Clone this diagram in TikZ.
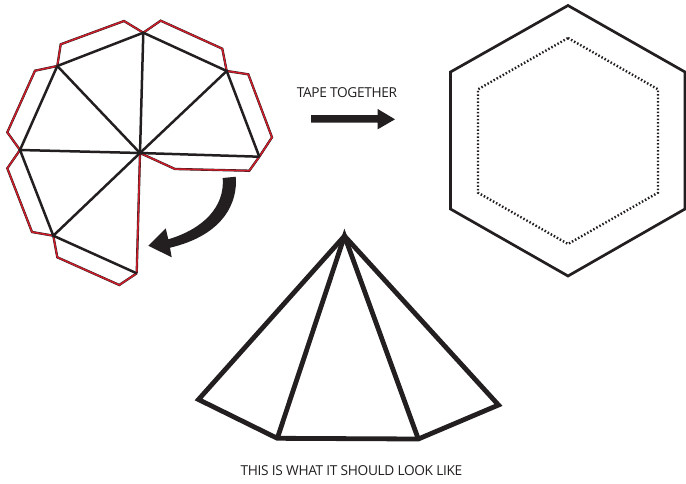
\documentclass[tikz,border=0pt]{standalone}
\usepackage{fontspec}
\setmainfont{Open Sans}[LetterSpace=-2.5]
\definecolor{inkblack}{RGB}{35,31,32}
\definecolor{flapred}{RGB}{205,28,42}
\tikzset{
    foldline/.style={draw=inkblack, line width=2.5pt},
    flapline/.style={draw=inkblack, line width=0.4pt, double=flapred, double distance=1.5pt, line join=miter},
    hexline/.style={draw=inkblack, line width=2.7pt, line join=miter},
    tapeline/.style={draw=inkblack, line width=2.4pt, dash pattern=on 1.5pt off 2pt},
    coneline/.style={draw=inkblack, line width=4.8pt, line join=miter, miter limit=20},
    notelabel/.style={align=center, font=\fontsize{13.7}{15}\selectfont, text=inkblack, inner sep=0pt}
}

\begin{document}
\begin{tikzpicture}[x=1pt, y=-1pt]
            \useasboundingbox (0,0) rectangle (686,483);

            % cut-out sheet
            \coordinate (c) at (140,153);
            \coordinate (v1) at (57.3,66);
            \coordinate (v2) at (143.3,32.7);
            \coordinate (v3) at (226.7,71);
            \coordinate (v4) at (259.3,156.7);
            \coordinate (v5) at (136.7,273.3);
            \coordinate (v6) at (53.3,235.7);
            \coordinate (v7) at (20,150);

            \draw[flapline] (v1) -- (60.7,44.3) -- (124,21) -- (v2);
            \draw[flapline] (v2) -- (160.7,20.7) -- (222.3,48.7) -- (v3);
            \draw[flapline] (v3) -- (248.3,74.3) -- (272,137.3) -- (v4);
            \draw[flapline] (v4) -- (249.3,170.7) -- (175,169) -- (c);
            \draw[flapline] (c) -- (v5);
            \draw[flapline] (v5) -- (119.3,285) -- (57.3,257.3) -- (v6);
            \draw[flapline] (v6) -- (32,232) -- (7.3,168.3) -- (v7);
            \draw[flapline] (v7) -- (7.3,132.3) -- (35,70.7) -- (v1);

            \draw[foldline] (v1) -- (v2) -- (v3) -- (v4);
            \draw[foldline] (v5) -- (v6) -- (v7) -- (v1);
            \draw[foldline] (c) -- (v1);
            \draw[foldline] (c) -- (v2);
            \draw[foldline] (c) -- (v3);
            \draw[foldline] (c) -- (v4);
            \draw[foldline] (c) -- (v6);
            \draw[foldline] (c) -- (v7);

            % fold arrow
            \fill[inkblack] (222.7,178) -- (235.7,176.7)
                .. controls (238,202) and (224,235) .. (170,247.7)
                -- (171.7,257.3) -- (148.3,245.7) -- (165.7,228.3) -- (168.3,239.3)
                .. controls (203,229) and (225,207) .. (222.7,178) -- cycle;

            % tape arrow
            \node[notelabel] (tapelabel) at (347,92.5) {TAPE TOGETHER};
            \fill[inkblack] (311,115) -- (377.7,115) -- (377.7,109) -- (395,119.3)
                -- (377.7,129.3) -- (377.7,122.7) -- (311,122.7) -- cycle;

            % hexagon
            \coordinate (h1) at (568,5.5);
            \coordinate (h2) at (685,72);
            \coordinate (h3) at (685,209);
            \coordinate (h4) at (568,276);
            \coordinate (h5) at (450.5,209);
            \coordinate (h6) at (450.5,72);
            \draw[hexline] (h1) -- (h2) -- (h3) -- (h4) -- (h5) -- (h6) -- cycle;

            \coordinate (t1) at (568,38);
            \coordinate (t2) at (658,89.3);
            \coordinate (t3) at (658,192.7);
            \coordinate (t4) at (568,244);
            \coordinate (t5) at (478,192.7);
            \coordinate (t6) at (478,89.3);
            \draw[tapeline] (t1) -- (t2) -- (t3) -- (t4) -- (t5) -- (t6) -- cycle;

            % finished pyramid
            \coordinate (p0) at (344.5,236);
            \coordinate (p1) at (198.5,399.5);
            \coordinate (p2) at (277.3,438.3);
            \coordinate (p3) at (418.3,439);
            \coordinate (p4) at (498.5,405);
            \draw[coneline] (p0) -- (p1) -- (p2) -- (p3) -- (p4) -- cycle;
            \draw[coneline] (p2) -- (p0) -- (p3);

            \node[notelabel] (resultlabel) at (351.5,471) {THIS IS WHAT IT SHOULD LOOK LIKE};
        \end{tikzpicture}
\end{document}
